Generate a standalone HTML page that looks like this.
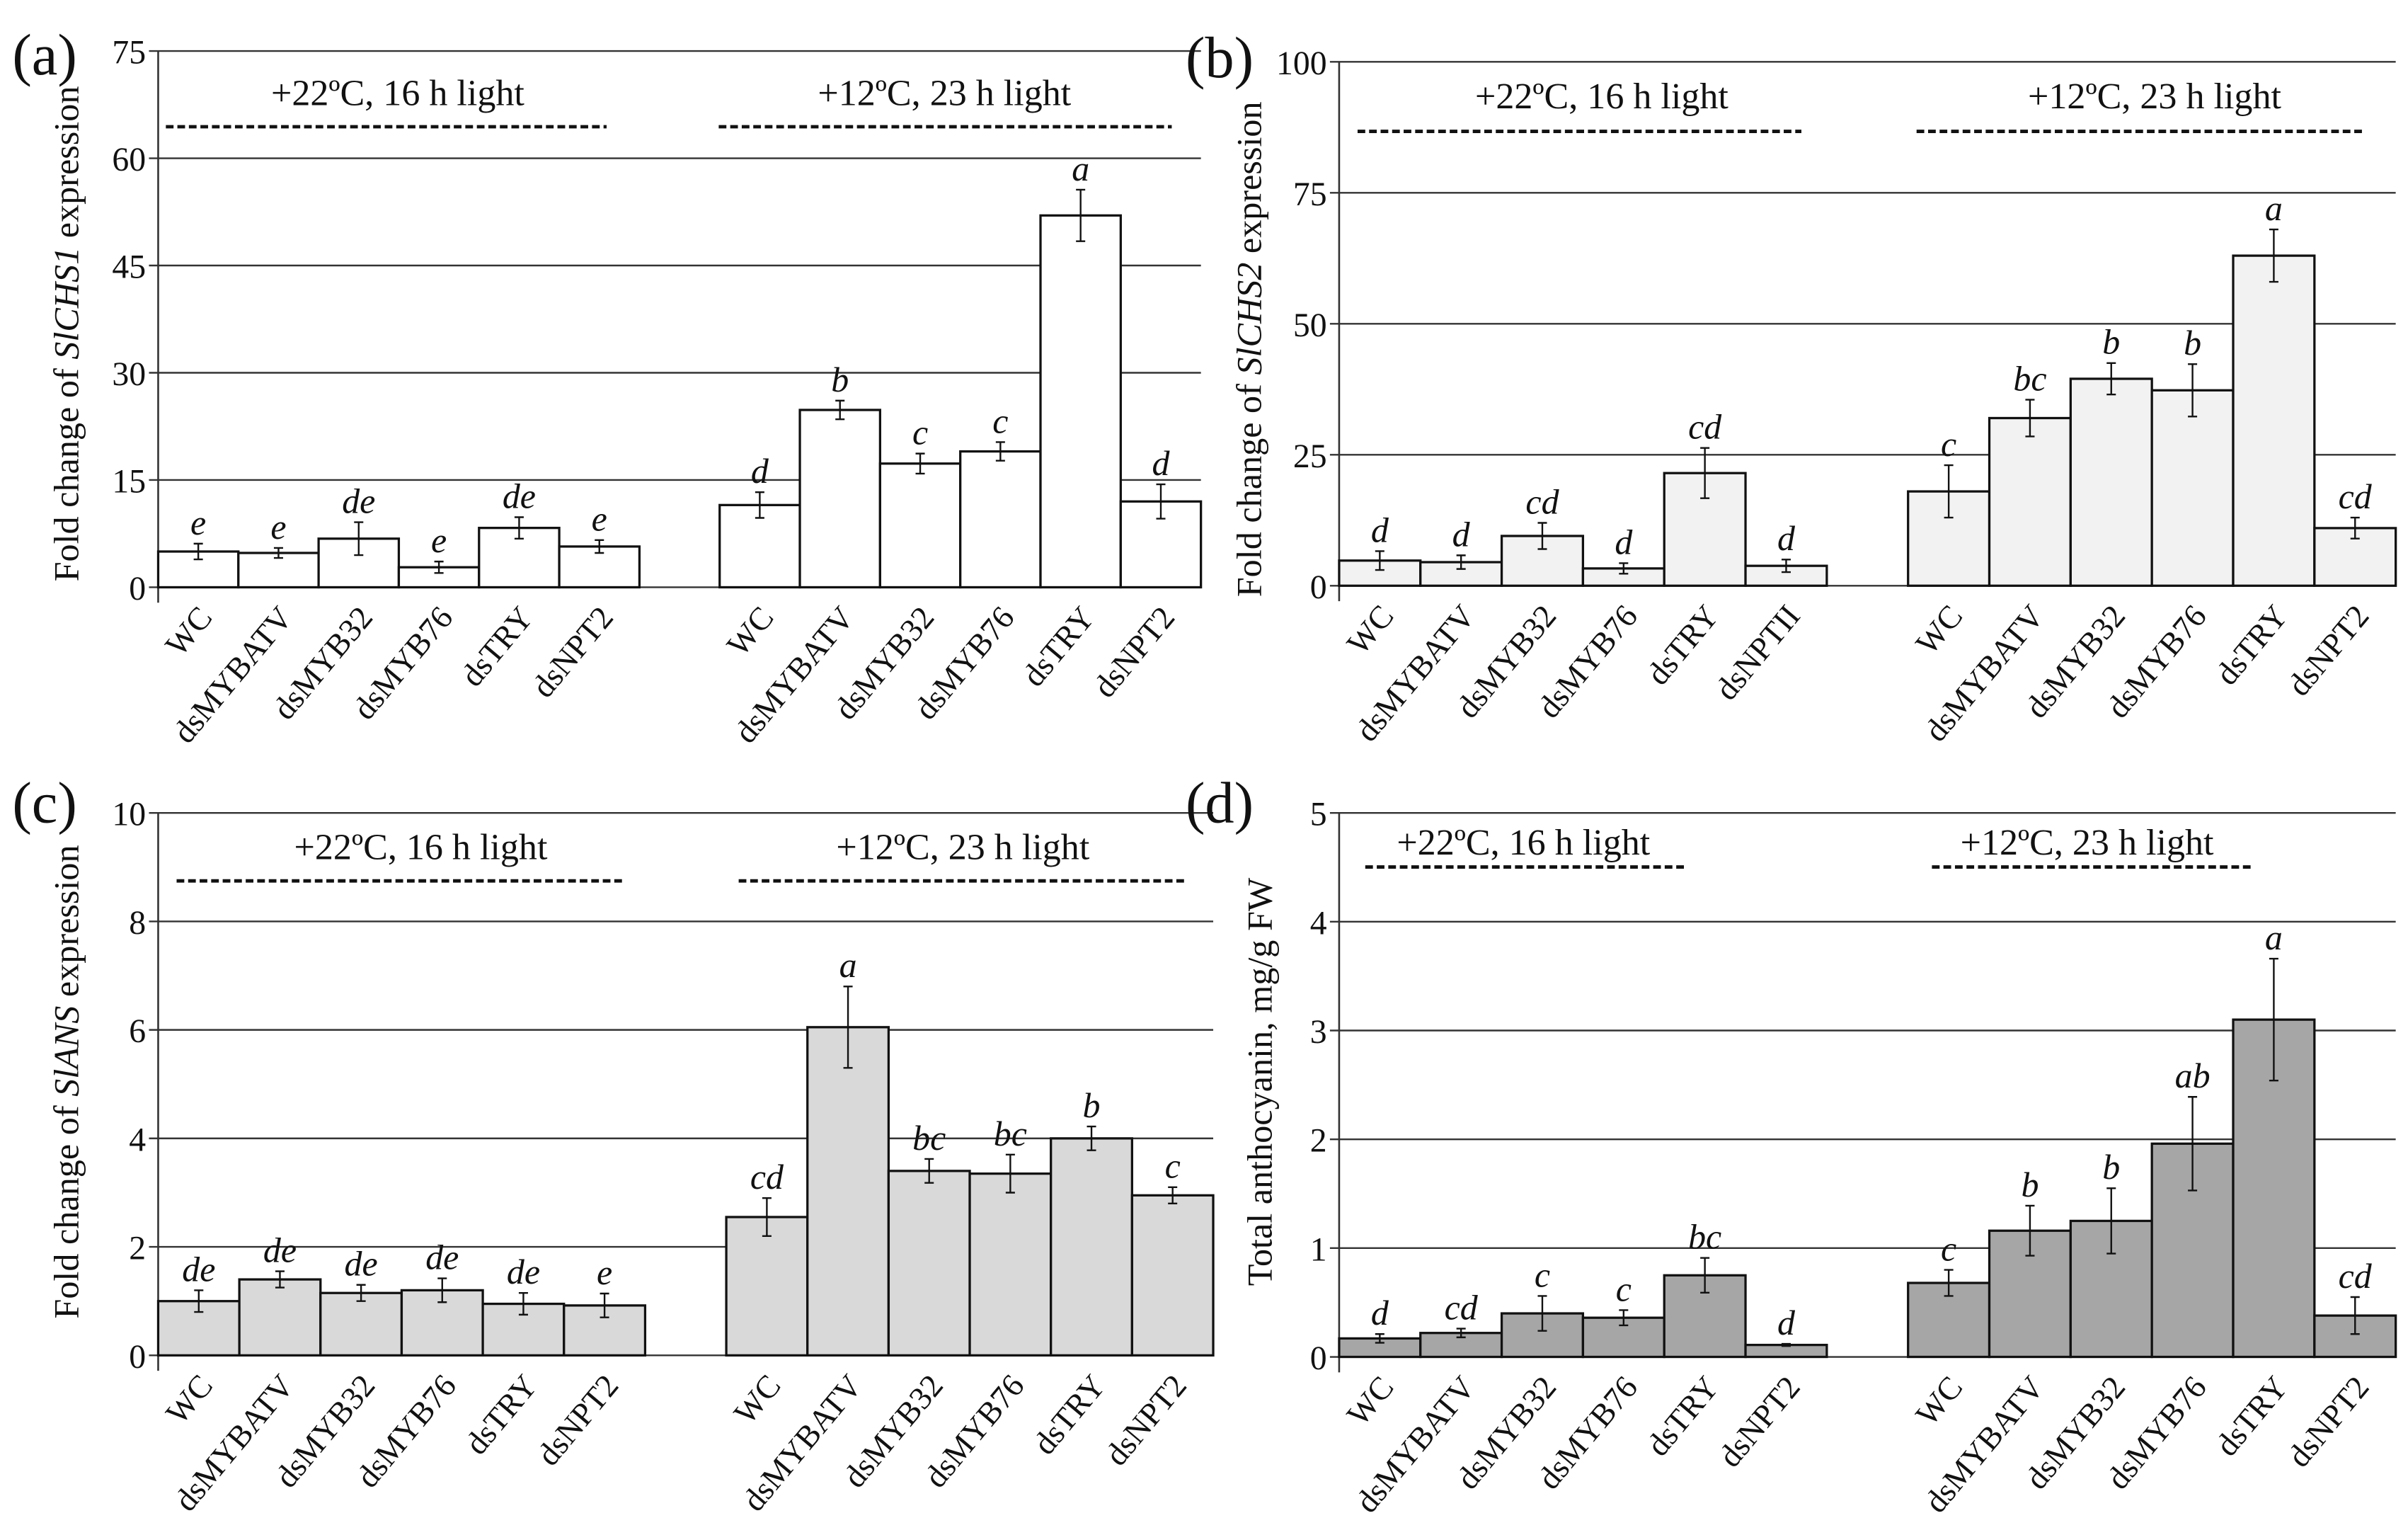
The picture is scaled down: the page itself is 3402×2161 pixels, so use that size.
<!DOCTYPE html>
<html><head><meta charset="utf-8"><style>
html,body{margin:0;padding:0;background:#fff}
svg{display:block}
text{font-family:"Liberation Serif",serif;fill:#111}
</style></head><body>
<svg id="fig" width="3402" height="2161" viewBox="0 0 1568 990" preserveAspectRatio="none" xmlns="http://www.w3.org/2000/svg"></svg>
<script>
// Panel (a)
const catsA1 = ["WC","dsMYBATV","dsMYB32","dsMYB76","dsTRY","dsNPT2"];
const catsA2 = ["WC","dsMYBATV","dsMYB32","dsMYB76","dsTRY","dsNPT2"];
const valsA = [5,4.8,6.8,2.8,8.3,5.7, 11.5,24.8,17.3,19,52,12];
const errsA = [1.1,0.7,2.3,0.8,1.5,0.9, 1.8,1.3,1.4,1.3,3.6,2.4];
const letA = ["e","e","de","e","de","e","d","b","c","c","a","d"];
const ticksA = [0,15,30,45,60,75];
// Panel (b)
const catsB1 = ["WC","dsMYBATV","dsMYB32","dsMYB76","dsTRY","dsNPTII"];
const catsB2 = ["WC","dsMYBATV","dsMYB32","dsMYB76","dsTRY","dsNPT2"];
const valsB = [4.8,4.5,9.5,3.3,21.5,3.8, 18,32,39.5,37.3,63,11];
const errsB = [1.8,1.3,2.5,1,4.8,1.2, 5,3.5,3,5,5,2];
const letB = ["d","d","cd","d","cd","d","c","bc","b","b","a","cd"];
const ticksB = [0,25,50,75,100];
// Panel (c)
const catsC1 = ["WC","dsMYBATV","dsMYB32","dsMYB76","dsTRY","dsNPT2"];
const catsC2 = ["WC","dsMYBATV","dsMYB32","dsMYB76","dsTRY","dsNPT2"];
const valsC = [1,1.4,1.15,1.2,0.95,0.92, 2.55,6.05,3.4,3.35,4,2.95];
const errsC = [0.2,0.15,0.15,0.22,0.2,0.22, 0.35,0.75,0.22,0.35,0.22,0.15];
const letC = ["de","de","de","de","de","e","cd","a","bc","bc","b","c"];
const ticksC = [0,2,4,6,8,10];
// Panel (d)
const catsD1 = ["WC","dsMYBATV","dsMYB32","dsMYB76","dsTRY","dsNPT2"];
const catsD2 = ["WC","dsMYBATV","dsMYB32","dsMYB76","dsTRY","dsNPT2"];
const valsD = [0.17,0.22,0.4,0.36,0.75,0.11, 0.68,1.16,1.25,1.96,3.1,0.38];
const errsD = [0.04,0.04,0.16,0.07,0.16,0.01, 0.12,0.23,0.3,0.43,0.56,0.17];
const letD = ["d","cd","c","c","bc","d","c","b","b","ab","a","cd"];
const ticksD = [0,1,2,3,4,5];

const NS="http://www.w3.org/2000/svg";
const svg=document.getElementById('fig');
function mk(tag,attrs,parent,txt){const e=document.createElementNS(NS,tag);for(const k in attrs)e.setAttribute(k,attrs[k]);if(txt!==undefined)e.textContent=txt;(parent||svg).appendChild(e);return e;}

function panel(p){
  const g=mk('g',{});
  
  
  const ymax=p.ticks[p.ticks.length-1];
  const y=v=>p.y0-(v/ymax)*(p.y0-p.yTop);
  const slot=(p.x1-p.x0)/13;
  const xs=i=>p.x0+(i<6?i:i+1)*slot;
  p.ticks.forEach(t=>{
    const l=mk('line',{x1:p.x0-6,x2:p.x1,y1:y(t),y2:y(t),stroke:'#333','stroke-width':1.1},g);
    
    
    const tx=mk('text',{x:p.x0-8,y:y(t)+8,'text-anchor':'end','font-size':22},g,String(t));
    
    
  });
  const ax=mk('line',{x1:p.x0,x2:p.x0,y1:p.yTop,y2:p.y0+10,stroke:'#333','stroke-width':1.2},g);
  
  
  const cats=p.c1.concat(p.c2);
  p.vals.forEach((v,i)=>{
    const x=xs(i);
    const r=mk('rect',{x:x,y:y(v),width:slot,height:p.y0-y(v),fill:p.fill,stroke:'#111','stroke-width':1.5},g);
    
    
    const cx=x+slot/2, e=p.errs[i];
    const eb=mk('path',{d:`M${cx} ${y(v+e)}V${y(v-e)}M${cx-3} ${y(v+e)}h6M${cx-3} ${y(v-e)}h6`,stroke:'#111','stroke-width':1.1,fill:'none'},g);
    
    
    const lt=mk('text',{x:cx,y:y(v+e)-6,'text-anchor':'middle','font-size':23,'font-style':'italic'},g,p.lets[i]);
    
    
    const cl=mk('text',{x:0,y:0,'text-anchor':'end','font-size':21,transform:`translate(${cx+10},${p.y0+20}) rotate(-50)`},g,cats[i]);
    
    
  });
  p.heads.forEach((h,k)=>{
    const t=mk('text',{x:h.tx,y:h.ty,'text-anchor':'middle','font-size':24},g,k==0?'+22ºC, 16 h light':'+12ºC, 23 h light');
    
    
    const d=mk('line',{x1:h.d0,x2:h.d1,y1:h.dy,y2:h.dy,stroke:'#111','stroke-width':2.2,'stroke-dasharray':'5 2.5'},g);
    
    
  });
  const yt=mk('text',{x:0,y:0,'text-anchor':'middle','font-size':23,transform:`translate(${p.titleX},${p.titleY}) rotate(-90)`},g);
  
  
  p.title.forEach(s=>{mk('tspan',s[1]?{'font-style':'italic'}:{},yt,s[0]);});
  const pl=mk('text',{x:p.labX,y:p.labY,'font-size':38},g,'('+p.id+')');
  
  
}

panel({id:'a',x0:103,x1:782,yTop:33,y0:380,ticks:ticksA,vals:valsA,errs:errsA,lets:letA,c1:catsA1,c2:catsA2,fill:'#fff',
  heads:[{tx:259,ty:68,d0:108,d1:395,dy:82},{tx:615,ty:68,d0:468,d1:763,dy:82}],
  title:[['Fold change of ',0],['SlCHS1',1],[' expression',0]],titleX:51,titleY:216,labX:8,labY:48});
panel({id:'b',x0:872,x1:1560,yTop:40,y0:379,ticks:ticksB,vals:valsB,errs:errsB,lets:letB,c1:catsB1,c2:catsB2,fill:'#f2f2f2',
  heads:[{tx:1043,ty:70,d0:884,d1:1173,dy:85},{tx:1403,ty:70,d0:1248,d1:1538,dy:85}],
  title:[['Fold change of ',0],['SlCHS2',1],[' expression',0]],titleX:821,titleY:226,labX:772,labY:50});
panel({id:'c',x0:103,x1:790,yTop:526,y0:877,ticks:ticksC,vals:valsC,errs:errsC,lets:letC,c1:catsC1,c2:catsC2,fill:'#d9d9d9',
  heads:[{tx:274,ty:556,d0:115,d1:405,dy:570},{tx:627,ty:556,d0:481,d1:773,dy:570}],
  title:[['Fold change of ',0],['SlANS',1],[' expression',0]],titleX:51,titleY:700,labX:8,labY:532});
panel({id:'d',x0:872,x1:1560,yTop:526,y0:878,ticks:ticksD,vals:valsD,errs:errsD,lets:letD,c1:catsD1,c2:catsD2,fill:'#a6a6a6',
  heads:[{tx:992,ty:553,d0:889,d1:1098,dy:561},{tx:1359,ty:553,d0:1258,d1:1468,dy:561}],
  title:[['Total anthocyanin, mg/g FW',0]],titleX:828,titleY:700,labX:772,labY:532});
</script>
</body></html>
